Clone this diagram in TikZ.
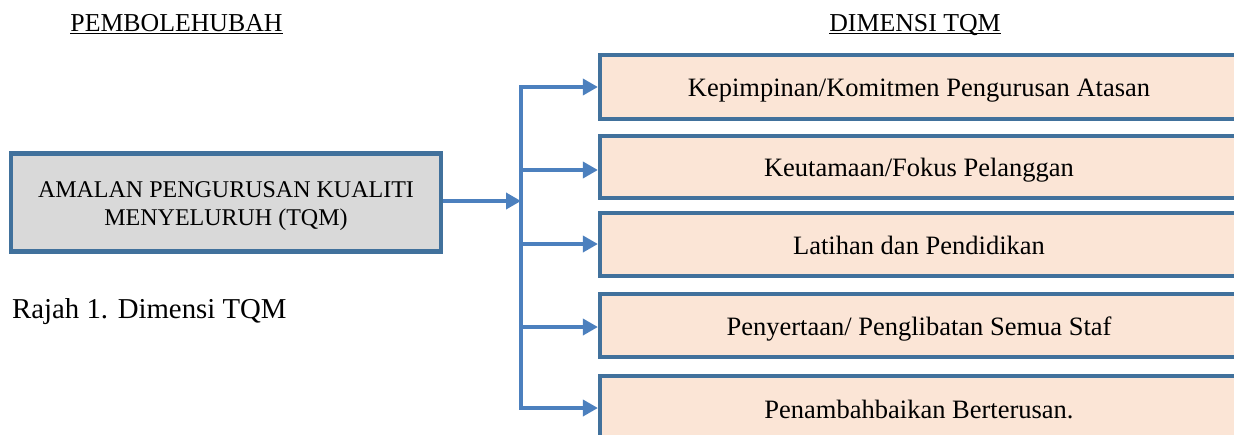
\documentclass[tikz,border=0pt]{standalone}
\usepackage{fontspec}
\setmainfont{Liberation Serif}
\usetikzlibrary{arrows.meta}
\definecolor{boxline}{RGB}{65,113,156}
\definecolor{linkblue}{RGB}{76,128,190}
\definecolor{peach}{RGB}{251,229,214}
\definecolor{greyfill}{RGB}{217,217,217}
\begin{document}
\begin{tikzpicture}[x=1pt,y=-1pt,
  srcbox/.style={draw=boxline,line width=4.2pt,fill=greyfill,minimum width=430pt,
    minimum height=98pt},
  srctext/.style={align=center,inner sep=0pt,font=\fontsize{24}{28}\selectfont},
  dimbox/.style={draw=boxline,line width=4.2pt,fill=peach,minimum width=638pt,
    inner sep=0pt,text height=19pt,text depth=0pt,font=\fontsize{26.5}{30}\selectfont},
  heading/.style={inner sep=0pt,anchor=base,font=\fontsize{25.8}{30}\selectfont},
  underbar/.style={line width=1.4pt},
  link/.style={draw=linkblue,line width=3.6pt},
  tip/.style={link,-{Triangle[length=15pt,width=16pt]}}]
\useasboundingbox (0,0) rectangle (1234,434);
\clip (0,0) rectangle (1234,434);

% column headings
\node[heading] (h1) at (176.5,31) {PEMBOLEHUBAH};
\node[heading] (h2) at (915,31) {DIMENSI TQM};
\draw[underbar] ([yshift=-2.5pt]h1.base west) -- ([yshift=-2.5pt]h1.base east);
\draw[underbar] ([yshift=-2.5pt]h2.base west) -- ([yshift=-2.5pt]h2.base east);

% source box and its two-line label
\node[srcbox] (src) at (226,202.5) {};
\node[srctext] (srclabel) at ([yshift=-3.5pt]src.center) {AMALAN PENGURUSAN KUALITI\\MENYELURUH (TQM)};

% caption
\node[inner sep=0pt,anchor=base west,font=\fontsize{28.8}{32}\selectfont] (cap) at (12,318) {Rajah 1. Dimensi TQM};

% dimension boxes
\node[dimbox,minimum height=64pt] (d1) at (919,87) {Kepimpinan/Komitmen Pengurusan Atasan};
\node[dimbox,minimum height=62pt] (d2) at (919,167) {Keutamaan/Fokus Pelanggan};
\node[dimbox,minimum height=63pt] (d3) at (919,244.5) {Latihan dan Pendidikan};
\node[dimbox,minimum height=63pt] (d4) at (919,325.5) {Penyertaan/ Penglibatan Semua Staf};
\node[dimbox,minimum height=66pt] (d5) at (919,409) {Penambahbaikan Berterusan.};

% trunk and branches
\coordinate (tin) at (521,201);
\coordinate (t1) at (521,87);
\coordinate (t2) at (521,170);
\coordinate (t3) at (521,244);
\coordinate (t4) at (521,327);
\coordinate (t5) at (521,408);
\draw[link,line cap=rect] (t1) -- (t5);
\draw[tip] (src.east |- tin) -- (tin);
\foreach \i in {1,...,5}
  \draw[tip] (t\i) -- (t\i -| d\i.west);
\end{tikzpicture}
\end{document}
